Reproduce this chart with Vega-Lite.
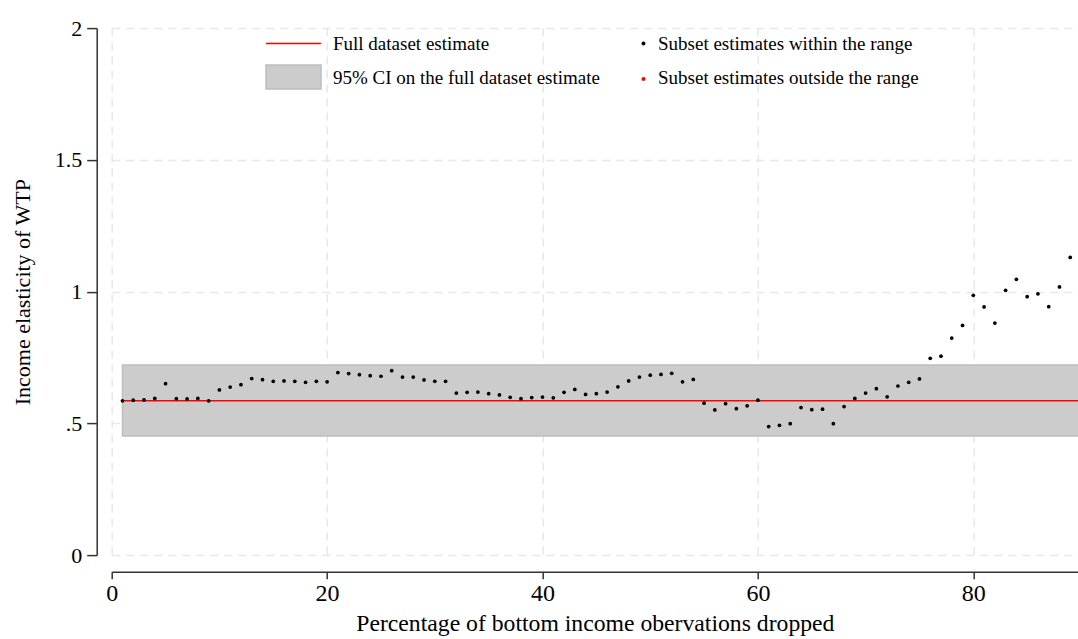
{
  "$schema": "https://vega.github.io/schema/vega-lite/v6.json",
  "width": 966.3,
  "height": 527.1,
  "autosize": {"type": "none"},
  "padding": {"left": 111.7, "top": 28.1, "right": 0, "bottom": 83.8},
  "background": "white",
  "config": {
    "view": {"stroke": null},
    "font": "Liberation Serif",
    "axis": {
      "domainColor": "#333333",
      "domainWidth": 1.5,
      "tickColor": "#333333",
      "tickWidth": 1.5,
      "labelColor": "black",
      "titleColor": "black",
      "titleFontWeight": "normal",
      "labelFont": "Liberation Serif",
      "titleFont": "Liberation Serif",
      "grid": true,
      "gridColor": "#e8e8e8",
      "gridDash": [8, 6],
      "gridWidth": 1.5,
      "labelFlush": false,
      "labelOverlap": false
    }
  },
  "datasets": {
    "points": [
      {"pct": 1, "est": 0.586}, {"pct": 2, "est": 0.588}, {"pct": 3, "est": 0.589}, {"pct": 4, "est": 0.595},
      {"pct": 5, "est": 0.651}, {"pct": 6, "est": 0.594}, {"pct": 7, "est": 0.593}, {"pct": 8, "est": 0.595},
      {"pct": 9, "est": 0.586}, {"pct": 10, "est": 0.627}, {"pct": 11, "est": 0.638}, {"pct": 12, "est": 0.647},
      {"pct": 13, "est": 0.670}, {"pct": 14, "est": 0.666}, {"pct": 15, "est": 0.660}, {"pct": 16, "est": 0.661},
      {"pct": 17, "est": 0.660}, {"pct": 18, "est": 0.656}, {"pct": 19, "est": 0.660}, {"pct": 20, "est": 0.658},
      {"pct": 21, "est": 0.693}, {"pct": 22, "est": 0.689}, {"pct": 23, "est": 0.685}, {"pct": 24, "est": 0.681},
      {"pct": 25, "est": 0.679}, {"pct": 26, "est": 0.700}, {"pct": 27, "est": 0.676}, {"pct": 28, "est": 0.676},
      {"pct": 29, "est": 0.665}, {"pct": 30, "est": 0.660}, {"pct": 31, "est": 0.660}, {"pct": 32, "est": 0.615},
      {"pct": 33, "est": 0.618}, {"pct": 34, "est": 0.619}, {"pct": 35, "est": 0.613}, {"pct": 36, "est": 0.608},
      {"pct": 37, "est": 0.599}, {"pct": 38, "est": 0.594}, {"pct": 39, "est": 0.598}, {"pct": 40, "est": 0.600},
      {"pct": 41, "est": 0.597}, {"pct": 42, "est": 0.618}, {"pct": 43, "est": 0.629}, {"pct": 44, "est": 0.610},
      {"pct": 45, "est": 0.613}, {"pct": 46, "est": 0.619}, {"pct": 47, "est": 0.639}, {"pct": 48, "est": 0.661},
      {"pct": 49, "est": 0.676}, {"pct": 50, "est": 0.683}, {"pct": 51, "est": 0.686}, {"pct": 52, "est": 0.690},
      {"pct": 53, "est": 0.658}, {"pct": 54, "est": 0.667}, {"pct": 55, "est": 0.577}, {"pct": 56, "est": 0.551},
      {"pct": 57, "est": 0.575}, {"pct": 58, "est": 0.556}, {"pct": 59, "est": 0.567}, {"pct": 60, "est": 0.588},
      {"pct": 61, "est": 0.488}, {"pct": 62, "est": 0.493}, {"pct": 63, "est": 0.499}, {"pct": 64, "est": 0.560},
      {"pct": 65, "est": 0.552}, {"pct": 66, "est": 0.554}, {"pct": 67, "est": 0.499}, {"pct": 68, "est": 0.564},
      {"pct": 69, "est": 0.595}, {"pct": 70, "est": 0.615}, {"pct": 71, "est": 0.632}, {"pct": 72, "est": 0.601},
      {"pct": 73, "est": 0.642}, {"pct": 74, "est": 0.656}, {"pct": 75, "est": 0.669}, {"pct": 76, "est": 0.747},
      {"pct": 77, "est": 0.755}, {"pct": 78, "est": 0.824}, {"pct": 79, "est": 0.872}, {"pct": 80, "est": 0.986},
      {"pct": 81, "est": 0.942}, {"pct": 82, "est": 0.881}, {"pct": 83, "est": 1.005}, {"pct": 84, "est": 1.047},
      {"pct": 85, "est": 0.981}, {"pct": 86, "est": 0.992}, {"pct": 87, "est": 0.943}, {"pct": 88, "est": 1.018},
      {"pct": 89, "est": 1.130}, {"pct": 90, "est": 1.050}
    ],
    "full": [{"start": 1, "end": 120, "est": 0.586, "lo": 0.452, "hi": 0.722}]
  },
  "layer": [
    {
      "data": {"name": "full"},
      "mark": {"type": "rect", "fill": "#cccccc", "stroke": "#bdbdbd", "strokeWidth": 1.5, "clip": true},
      "encoding": {
        "x": {
          "field": "start", "type": "quantitative",
          "scale": {"domain": [0, 89.72], "nice": false, "zero": false},
          "axis": {
            "values": [0, 20, 40, 60, 80],
            "offset": 16.5,
            "tickSize": 7,
            "labelFontSize": 24,
            "labelPadding": 3,
            "title": "Percentage of bottom income obervations dropped",
            "titleFontSize": 23.7,
            "titlePadding": 6
          }
        },
        "x2": {"field": "end"},
        "y": {
          "field": "lo", "type": "quantitative",
          "scale": {"domain": [0, 2], "nice": false, "zero": false},
          "axis": {
            "values": [0, 0.5, 1, 1.5, 2],
            "offset": 15,
            "tickSize": 10,
            "labelFontSize": 22,
            "labelPadding": 5,
            "labelExpr": "datum.value === 0.5 ? '.5' : format(datum.value, '~g')",
            "title": "Income elasticity of WTP",
            "titleFontSize": 22,
            "titlePadding": 20
          }
        },
        "y2": {"field": "hi"}
      }
    },
    {
      "data": {"name": "full"},
      "mark": {"type": "rule", "color": "#ff0000", "strokeWidth": 1.5, "clip": true},
      "encoding": {
        "x": {"field": "start", "type": "quantitative"},
        "x2": {"field": "end"},
        "y": {"field": "est", "type": "quantitative"}
      }
    },
    {
      "data": {"name": "points"},
      "mark": {"type": "point", "filled": true, "shape": "circle", "size": 14, "color": "black", "opacity": 1, "clip": true},
      "encoding": {
        "x": {"field": "pct", "type": "quantitative"},
        "y": {"field": "est", "type": "quantitative"}
      }
    },
    {
      "data": {"values": []},
      "mark": {"type": "point", "filled": true, "opacity": 1},
      "encoding": {
        "fill": {
          "field": "series", "type": "nominal",
          "scale": {
            "domain": ["Full dataset estimate", "95% CI on the full dataset estimate", "Subset estimates within the range", "Subset estimates outside the range"],
            "range": ["transparent", "#cccccc", "black", "#ff0000"]
          },
          "legend": {
            "title": null, "orient": "none", "legendX": 188.3, "legendY": 4.4,
            "columns": 2, "columnPadding": 25, "rowPadding": 8.5, "padding": 0,
            "symbolSize": 400, "symbolStrokeWidth": 1.5, "labelOffset": 11,
            "labelFontSize": 19, "labelFont": "Liberation Serif", "labelColor": "black", "labelLimit": 500
          }
        },
        "stroke": {
          "field": "series", "type": "nominal",
          "scale": {
            "domain": ["Full dataset estimate", "95% CI on the full dataset estimate", "Subset estimates within the range", "Subset estimates outside the range"],
            "range": ["#ff0000", "#bdbdbd", "transparent", "transparent"]
          },
          "legend": {
            "title": null, "orient": "none", "legendX": 188.3, "legendY": 4.4,
            "columns": 2, "columnPadding": 25, "rowPadding": 8.5, "padding": 0,
            "symbolSize": 400, "symbolStrokeWidth": 1.5, "labelOffset": 11,
            "labelFontSize": 19, "labelFont": "Liberation Serif", "labelColor": "black", "labelLimit": 500
          }
        },
        "shape": {
          "field": "series", "type": "nominal",
          "scale": {
            "domain": ["Full dataset estimate", "95% CI on the full dataset estimate", "Subset estimates within the range", "Subset estimates outside the range"],
            "range": ["M-4.5,0H1", "M-4.5,-1.3H1V1.1H-4.5Z", "M0.55,0A0.2,0.2,0,1,1,0.95,0A0.2,0.2,0,1,1,0.55,0Z", "M0.55,0.1A0.2,0.2,0,1,1,0.95,0.1A0.2,0.2,0,1,1,0.55,0.1Z"]
          },
          "legend": {
            "title": null, "orient": "none", "legendX": 188.3, "legendY": 4.4,
            "columns": 2, "columnPadding": 25, "rowPadding": 8.5, "padding": 0,
            "symbolSize": 400, "symbolStrokeWidth": 1.5, "labelOffset": 11,
            "labelFontSize": 19, "labelFont": "Liberation Serif", "labelColor": "black", "labelLimit": 500
          }
        }
      }
    }
  ]
}
